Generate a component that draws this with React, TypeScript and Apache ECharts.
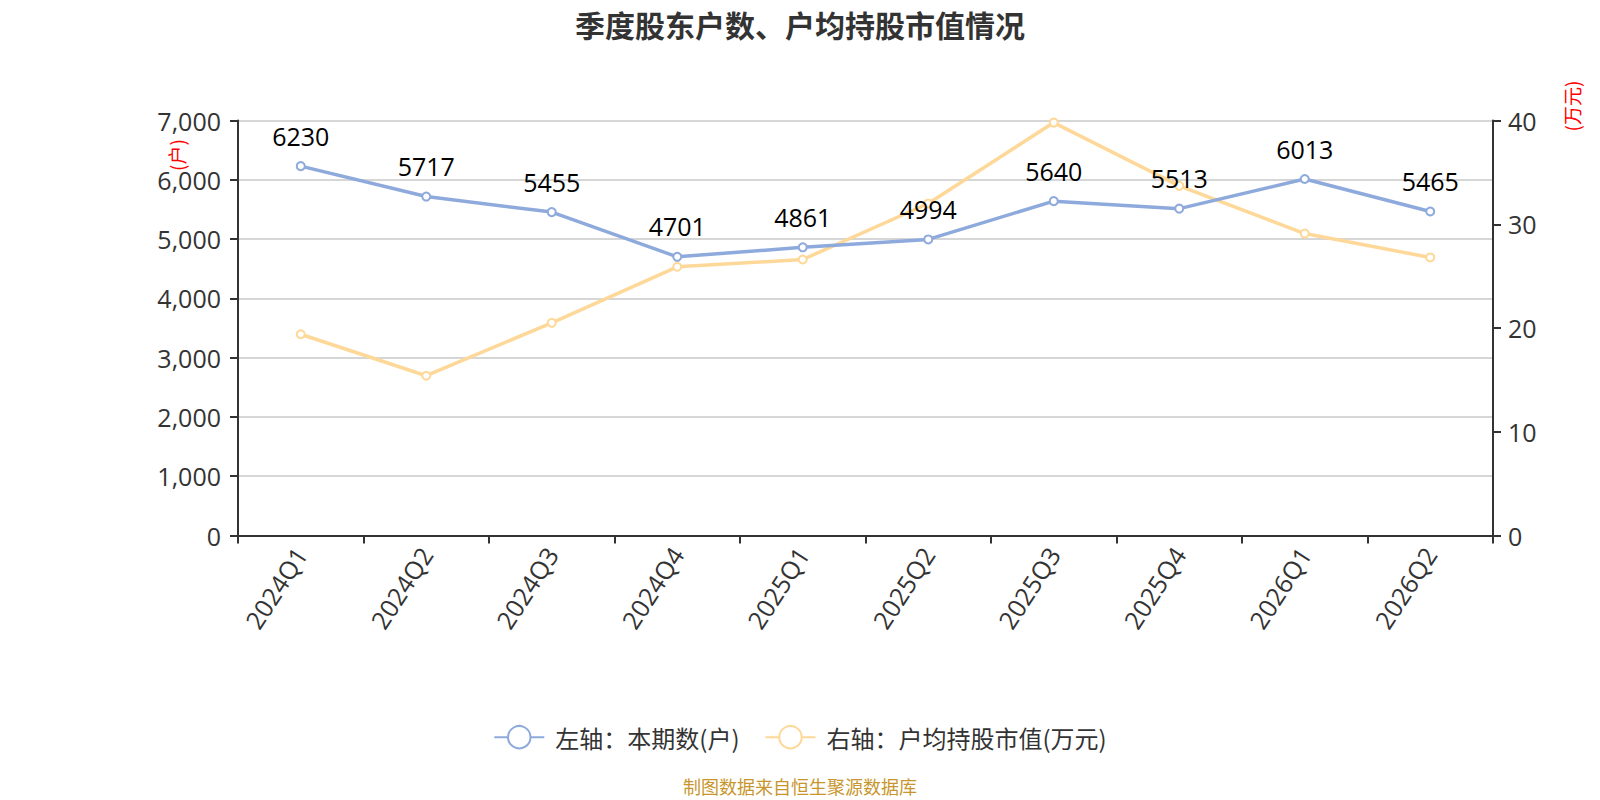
import React, { useEffect, useRef } from "react";
import * as echarts from "echarts";

const categories = ["2024Q1", "2024Q2", "2024Q3", "2024Q4", "2025Q1", "2025Q2", "2025Q3", "2025Q4", "2026Q1", "2026Q2"];
const holders = [6230, 5717, 5455, 4701, 4861, 4994, 5640, 5513, 6013, 5465];
const avgValue = [19.4, 15.4, 20.5, 25.9, 26.6, 32.0, 39.8, 33.7, 29.1, 26.8];
const seriesNames = ["左轴：本期数(户)", "右轴：户均持股市值(万元)"];
const titleText = "季度股东户数、户均持股市值情况";
const footerText = "制图数据来自恒生聚源数据库";
const leftAxisName = "(户)";
const rightAxisName = "(万元)";

const FONT = "'Noto Sans CJK SC', 'Noto Sans', sans-serif";
const NUMFONT = "'Open Sans', 'Noto Sans', sans-serif";

export default function App() {
  const ref = useRef<HTMLDivElement>(null);
  useEffect(() => {
    document.body.style.margin = "0";
    const chart = echarts.init(ref.current!, null, { renderer: "svg" });
    const axisLine = { show: true, lineStyle: { color: "#333", width: 2 } };
    const axisTick = { show: true, length: 8, lineStyle: { color: "#333", width: 2 } };
    chart.setOption({
      animation: false,
      backgroundColor: "#fff",
      title: {
        text: titleText,
        left: 795,
        textAlign: "center",
        top: 4,
        textStyle: { fontFamily: FONT, fontSize: 30, fontWeight: "bold", color: "#333" },
      },
      legend: {
        left: "center",
        top: 720,
        itemWidth: 50,
        itemHeight: 28,
        itemGap: 25,
        textStyle: { fontFamily: FONT, fontSize: 24, color: "#333", padding: [0, 0, 0, 6] },
        data: seriesNames,
      },
      grid: { left: 238, right: 107, top: 120.5, bottom: 264.5 },
      xAxis: {
        type: "category",
        data: categories,
        boundaryGap: true,
        axisLine,
        axisTick,
        axisLabel: { rotate: 57, fontFamily: NUMFONT, fontSize: 25, color: "#333", margin: 14 },
      },
      yAxis: [
        {
          type: "value",
          min: 0,
          max: 7000,
          interval: 1000,
          axisLine,
          axisTick,
          axisLabel: { fontFamily: NUMFONT, fontSize: 25, color: "#333", margin: 17 },
          splitLine: { show: true, lineStyle: { color: "#c8c8c8", width: 1.5 } },
        },
        {
          type: "value",
          min: 0,
          max: 40,
          interval: 10,
          position: "right",
          axisLine,
          axisTick,
          axisLabel: { fontFamily: NUMFONT, fontSize: 25, color: "#333", margin: 15 },
          splitLine: { show: false },
        },
      ],
      graphic: [
        {
          type: "text",
          x: 176,
          y: 155,
          rotation: Math.PI / 2,
          style: { text: leftAxisName, fill: "#ff0000", fontSize: 19, fontFamily: FONT, textAlign: "center", textVerticalAlign: "middle", align: "center", verticalAlign: "middle" },
        },
        {
          type: "text",
          x: 1571,
          y: 106,
          rotation: Math.PI / 2,
          style: { text: rightAxisName, fill: "#ff0000", fontSize: 19, fontFamily: FONT, textAlign: "center", textVerticalAlign: "middle", align: "center", verticalAlign: "middle" },
        },
        {
          type: "text",
          x: 800,
          y: 786,
          style: { text: footerText, fill: "#c8962d", fontSize: 18, fontFamily: FONT, textAlign: "center", textVerticalAlign: "middle", align: "center", verticalAlign: "middle" },
        },
      ],
      series: [
        {
          name: seriesNames[0],
          type: "line",
          yAxisIndex: 0,
          data: holders,
          symbol: "emptyCircle",
          symbolSize: 8,
          lineStyle: { width: 3.5, color: "#8eaadc" },
          itemStyle: { color: "#8eaadc", borderWidth: 2 },
          label: { show: true, position: "top", distance: 13, fontFamily: NUMFONT, fontSize: 25, color: "#000" },
          z: 3,
        },
        {
          name: seriesNames[1],
          type: "line",
          yAxisIndex: 1,
          data: avgValue,
          symbol: "emptyCircle",
          symbolSize: 8,
          lineStyle: { width: 3.5, color: "#fed898" },
          itemStyle: { color: "#fed898", borderWidth: 2 },
          label: { show: false },
          z: 2,
        },
      ],
    });
    return () => chart.dispose();
  }, []);
  return <div ref={ref} style={{ width: 1600, height: 800 }} />;
}
